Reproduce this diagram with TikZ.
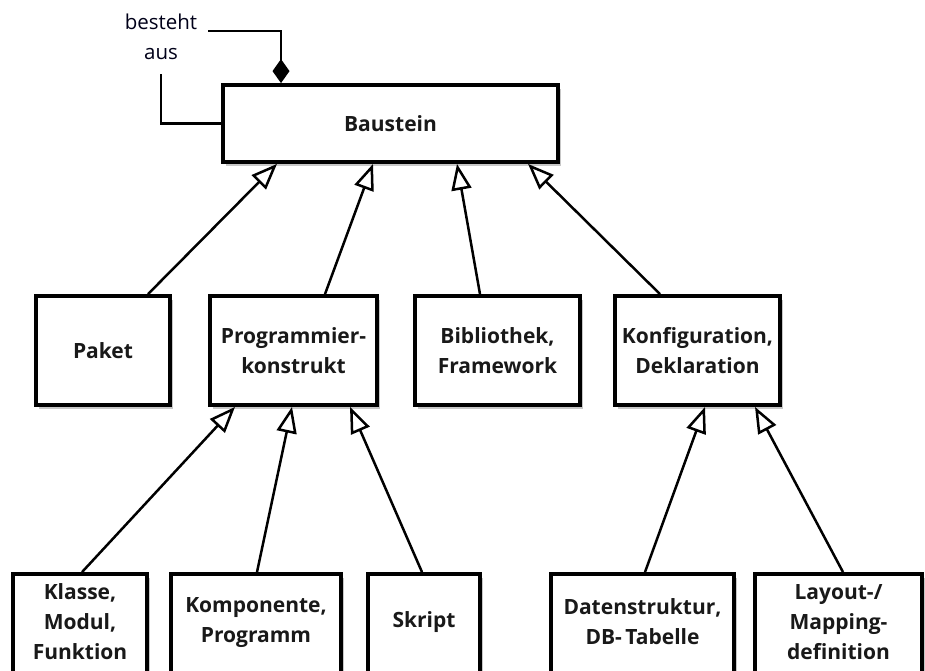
\documentclass[tikz,border=0pt]{standalone}
\usepackage{fontspec}
\setmainfont{Open Sans}
\usetikzlibrary{arrows.meta,shadows}
\begin{document}
\begin{tikzpicture}[x=1pt,y=-1pt,
  box/.style={draw=black, line width=3.8pt, fill=white, inner sep=0pt,
    drop shadow={shadow xshift=2.5pt, shadow yshift=-4pt, opacity=0.22, fill=black}},
  txt/.style={align=center, font=\bfseries\fontsize{21}{30}\selectfont, text=black!90},
  gen/.style={line width=2.5pt, -{Triangle[open, length=26pt, width=20pt, fill=white]}},
  link/.style={line width=2.5pt},
]
\useasboundingbox (0,0) rectangle (925,670);
\clip (0,0) rectangle (925,670);
\fill[white] (0,0) rectangle (925,670);

% top
\node[box, minimum width=335pt, minimum height=77pt] (baustein) at (390.5,123.5) {};
\node[txt] (bausteinT) at (baustein.center) {Baustein};

% middle row
\node[box, minimum width=134pt, minimum height=109pt] (paket) at (103,350.5) {};
\node[txt] (paketT) at (paket.center) {Paket};
\node[box, minimum width=167pt, minimum height=109pt] (prog) at (293.5,350.5) {};
\node[txt] (progT) at (prog.center) {Programmier-\\konstrukt};
\node[box, minimum width=165pt, minimum height=109pt] (bib) at (497.5,350.5) {};
\node[txt] (bibT) at (bib.center) {Bibliothek,\\Framework};
\node[box, minimum width=165pt, minimum height=109pt] (konf) at (697.5,350.5) {};
\node[txt] (konfT) at (konf.center) {Konfiguration,\\Deklaration};

% bottom row
\node[box, minimum width=134pt, minimum height=126pt] (klasse) at (80,637) {};
\node[txt] (klasseT) at ([yshift=-50pt]klasse.north) {Klasse,\\Modul,\\Funktion};
\node[box, minimum width=170pt, minimum height=126pt] (komp) at (256,637) {};
\node[txt] (kompT) at ([yshift=-50pt]komp.north) {Komponente,\\Programm};
\node[box, minimum width=112pt, minimum height=126pt] (skript) at (424,637) {};
\node[txt] (skriptT) at ([yshift=-50pt]skript.north) {Skript};
\node[box, minimum width=183pt, minimum height=126pt] (daten) at (642.5,637) {};
\node[txt] (datenT) at ([yshift=-50pt]daten.north) {Datenstruktur,\\DB-\,Tabelle};
\node[box, minimum width=167pt, minimum height=126pt] (layout) at (838.5,637) {};
\node[txt] (layoutT) at ([yshift=-50pt]layout.north) {Layout-/\\Mapping-\\definition};

% generalisations to Baustein
\draw[gen] ([xshift=45pt]paket.north) -- ([xshift=-113.5pt]baustein.south);
\draw[gen] ([xshift=31.5pt]prog.north) -- ([xshift=-17.5pt]baustein.south);
\draw[gen] ([xshift=-17.5pt]bib.north) -- ([xshift=66.5pt]baustein.south);
\draw[gen] ([xshift=-37.5pt]konf.north) -- ([xshift=137.5pt]baustein.south);

% generalisations to Programmierkonstrukt
\draw[gen] ([xshift=2pt]klasse.north) -- ([xshift=-58.5pt]prog.south);
\draw[gen] ([xshift=1pt]komp.north) -- ([xshift=-1.5pt]prog.south);
\draw[gen] ([xshift=-2pt]skript.north) -- ([xshift=56.5pt]prog.south);

% generalisations to Konfiguration
\draw[gen] ([xshift=2.5pt]daten.north) -- ([xshift=7.5pt]konf.south);
\draw[gen] ([xshift=4.5pt]layout.north) -- ([xshift=57.5pt]konf.south);

% composition "besteht aus"
\node[align=center, font=\fontsize{20.5}{30}\selectfont, text=black!90!blue] (lbl) at (161,37) {besteht\\aus};
\coordinate (c1) at (208,31);
\coordinate (c2) at (161,74);
\draw[link, -{Diamond[length=24pt, width=17pt]}] (c1) -| ([xshift=-109.5pt]baustein.north);
\draw[link] (c2) |- (baustein.west);
\end{tikzpicture}
\end{document}
